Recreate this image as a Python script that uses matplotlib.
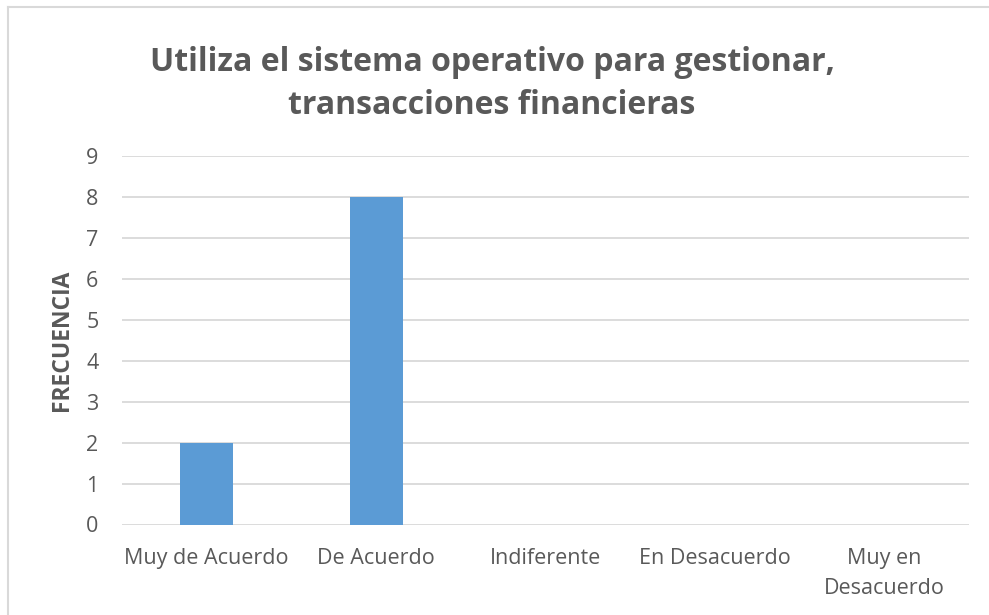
import matplotlib.pyplot as plt
from matplotlib.lines import Line2D

#---data---#
categories = ['Muy de Acuerdo', 'De Acuerdo', 'Indiferente', 'En Desacuerdo', 'Muy en\nDesacuerdo']
frecuencia = [2, 8, 0, 0, 0]
yticks = list(range(0, 10))

#---style---#
gray_txt = '#595959'
grid_col = '#D9D9D9'
bar_col = '#5B9BD5'
plt.rcParams['font.family'] = ['Open Sans', 'DejaVu Sans']

W, H = 989, 615
fig = plt.figure(figsize=(W / 100, H / 100), dpi=100)
ax = fig.add_axes([122 / W, (H - 524.5) / H, (969 - 122) / W, (524.5 - 156) / H])

x = list(range(len(categories)))
ax.bar(x, frecuencia, width=0.313, color=bar_col, zorder=3)

ax.set_xlim(-0.5, len(categories) - 0.5)
ax.set_ylim(0, 9)
ax.set_yticks(yticks)
ax.set_xticks(x)
ax.set_xticklabels(categories, linespacing=1.55)
ax.yaxis.grid(True, color=grid_col, linewidth=1.3, zorder=0)
ax.tick_params(axis='both', length=0, labelsize=15.5, colors=gray_txt)
ax.tick_params(axis='y', pad=17)
ax.tick_params(axis='x', pad=17)
for s in ax.spines.values():
    s.set_visible(False)

ax.set_ylabel('FRECUENCIA', fontsize=16.5, fontweight='bold', color=gray_txt, labelpad=9)

fig.text(492 / W, 1 - 84 / H, 'Utiliza el sistema operativo para gestionar,\ntransacciones financieras',
         ha='center', va='center', fontsize=23, fontweight='bold', color=gray_txt, linespacing=1.4)

# chart frame (only left/top visible in the crop)
fig.add_artist(Line2D([8 / W, 8 / W], [0, 1 - 7 / H], transform=fig.transFigure, color='#D9D9D9', lw=1.5))
fig.add_artist(Line2D([8 / W, 1], [1 - 7 / H, 1 - 7 / H], transform=fig.transFigure, color='#D9D9D9', lw=1.5))

fig.savefig('out.png', dpi=100)
